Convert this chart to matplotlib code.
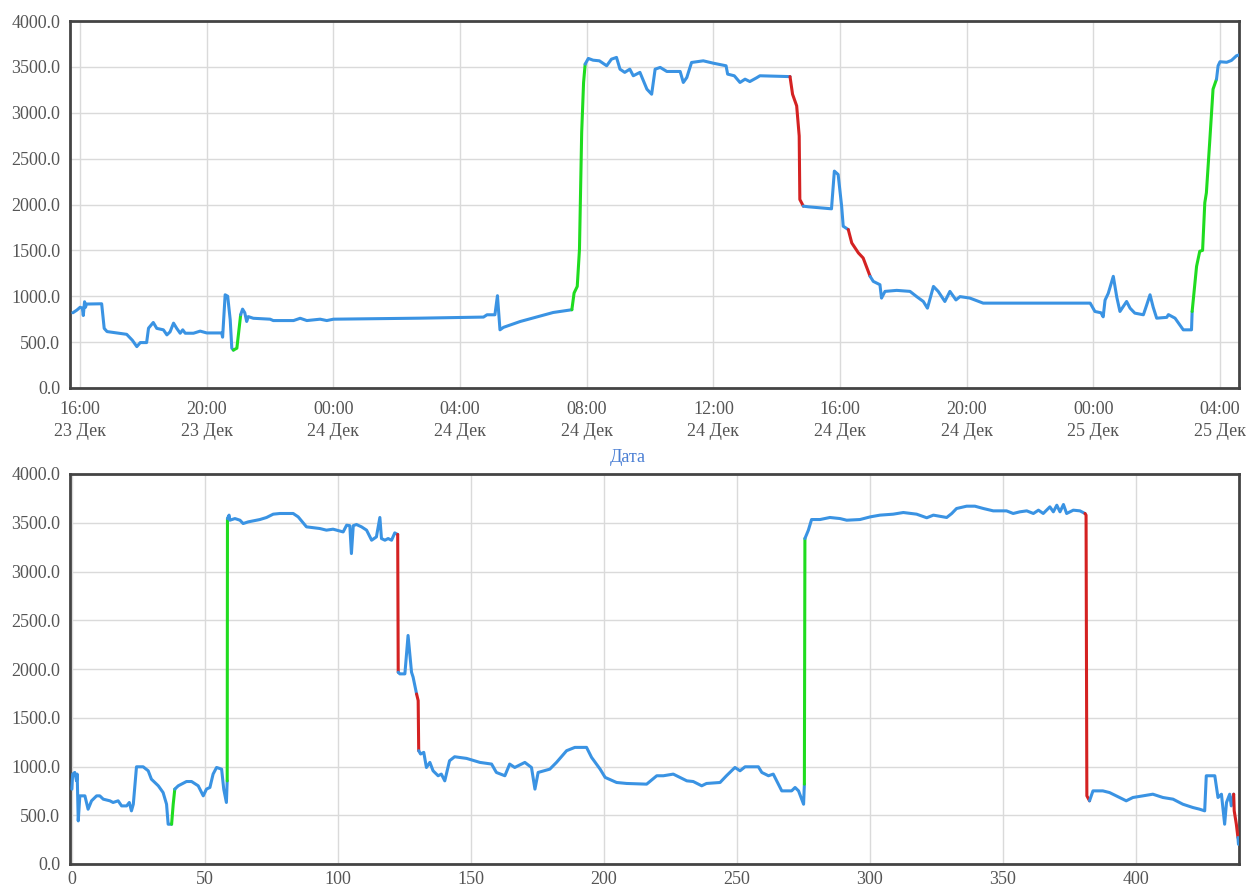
import matplotlib
matplotlib.use("Agg")
import matplotlib.pyplot as plt
import matplotlib.dates as mdates
from matplotlib.ticker import FuncFormatter, MultipleLocator
from datetime import datetime, timedelta

# ---------------- data: top chart (hours after 23 Dec 16:00) ----------------
top_hours = [-0.23, -0.1, 0.0, 0.07, 0.1, 0.14, 0.17, 0.2, 0.68, 0.76, 0.85, 1.16, 1.47, 1.65, 1.79,
             1.9, 2.1, 2.16, 2.31, 2.42, 2.63, 2.74, 2.84, 2.95, 3.05, 3.16, 3.24, 3.32, 3.58, 3.79,
             4.0, 4.47, 4.5, 4.58, 4.66, 4.74, 4.79, 4.84, 4.95, 5.07,
             5.13, 5.2, 5.26, 5.31, 5.47, 6.0, 6.1, 6.74, 6.95, 7.16, 7.58, 7.79, 8.0, 10.7, 12.74,
             12.85, 13.1, 13.18, 13.26, 13.37, 13.9, 14.94, 15.53,
             15.6, 15.7, 15.77, 15.84, 15.9, 15.95,
             16.05, 16.2, 16.4, 16.63, 16.78, 16.94, 17.05, 17.2, 17.36, 17.47, 17.68, 17.9, 18.05,
             18.16, 18.32, 18.53, 18.95, 19.05, 19.16, 19.31, 19.68, 20.0, 20.4, 20.45, 20.66, 20.84,
             21.0, 21.15, 21.36, 21.47, 22.42,
             22.5, 22.63, 22.71, 22.73, 22.84,
             23.0, 23.73, 23.82, 23.94, 24.05, 24.1, 24.26,
             24.37, 24.58, 24.73, 24.95,
             25.05, 25.26, 25.31, 25.42, 25.79, 26.21, 26.42, 26.63, 26.76, 26.95, 27.1, 27.31, 27.47,
             27.66, 27.79, 28.1, 28.52, 31.9, 32.05, 32.24, 32.31, 32.37, 32.47, 32.63, 32.74, 32.84,
             33.05, 33.16, 33.31, 33.58, 33.68, 33.79, 33.89, 34.0, 34.32, 34.37, 34.58, 34.84, 35.1,
             35.12,
             35.26, 35.36, 35.45, 35.52, 35.57, 35.68, 35.78, 35.89,
             35.94, 36.0, 36.21, 36.36, 36.52, 36.6]
top_values = [820, 850, 880, 870, 790, 940, 880, 915, 918, 650, 615, 600, 585, 520, 451,
              495, 495, 652, 714, 650, 634, 579, 612, 707, 650, 597, 634, 597, 597, 620,
              600, 600, 554, 1016, 1000, 743, 434, 413, 434, 798,
              860, 820, 725, 778, 760, 750, 735, 735, 760, 735, 750, 735, 750, 761, 773,
              798, 798, 1006, 634, 661, 725, 823, 853,
              1035, 1107, 1508, 2784, 3330, 3530,
              3592, 3573, 3566, 3512, 3584, 3603, 3475, 3440, 3475, 3403, 3440, 3257, 3202,
              3475, 3494, 3450, 3450, 3330, 3384, 3548, 3566, 3540, 3512, 3421, 3403, 3330,
              3366, 3340, 3380, 3403, 3394,
              3202, 3075, 2747, 2055, 1982,
              1975, 1953, 2364, 2327, 1982, 1763, 1727,
              1581, 1472, 1417, 1217,
              1162, 1126, 980, 1053, 1064, 1053, 996, 943, 870, 1107, 1053, 943, 1053,
              960, 996, 980, 925, 925, 834, 820, 776, 958, 1031, 1217, 990, 834,
              943, 870, 816, 798, 900, 1016, 880, 761, 770, 800, 761, 634, 634,
              834,
              1326, 1490, 1500, 2019, 2128, 2711, 3257, 3366,
              3512, 3556, 3550, 3570, 3621, 3630]
# highlighted spans (in hours): rises drawn green, falls drawn red
top_rise_spans = [(4.84, 5.07), (15.53, 15.95), (35.12, 35.89)]
top_fall_spans = [(22.42, 22.84), (24.26, 24.95)]

# ---------------- data: bottom chart (sample index) ----------------
bot_index = [0, 0.3, 1.1, 1.75, 2, 2.4, 3, 4.9, 6.1, 7.4, 9.3, 10.5, 11.8, 14.3, 15.5, 17.4, 18.7,
             20.6, 21.6, 22.4, 23.1, 24.3, 26.8, 28.7, 29.9, 32.5, 34.3, 35.6, 36.2, 37.5,
             38.1, 38.7,
             40, 43.1, 45, 47.5, 49.4, 50.6, 51.9, 53.1, 54.4, 56.3, 57.1, 58.1, 58.4,
             58.5,
             59.1, 59.4, 61.3, 63.2, 64.4, 66.3, 70.7, 73.2, 75.7, 78.2, 83.2, 85.1, 88.2, 93.2,
             95.7, 98.2, 102, 103.3, 104.5, 105.1, 105.8, 107, 108.9, 110.8, 112.7, 114.5, 115.8,
             116.4, 117.7, 118.9, 120.2, 121.4, 122.5,
             122.7,
             123.3, 125.2, 126.4, 127.7, 128.3, 129.6,
             130.2, 130.4,
             131.1, 132.3, 133.3, 134.6, 135.8, 137.7, 138.9, 140.2, 142, 143.9, 148.4, 153.4,
             157.8, 159.6, 162.8, 164.6, 166.5, 170.3, 172.8, 174.1, 175.3, 179.7, 182.2, 186,
             189.1, 193.5, 195.4, 198.6, 200.5, 204.8, 208.6, 216.1, 219.9, 222.4, 226.1, 231.2,
             233.6, 236.8, 238.6, 243.7, 246.1, 249.3, 251.2, 253.1, 258.1, 259.4, 261.9, 263.7,
             266.9, 270.6, 271.9, 273.2, 275.1, 275.4,
             275.6,
             276.9, 278.1, 281.3, 285, 288.8, 291.3, 296.3, 300.1, 303.8, 308.8, 312.6, 317.6,
             321.4, 323.9, 328.9, 330.8, 332.6, 336.4, 339.5, 342.7, 346.4, 351.4, 353.9, 356.4,
             359, 361.5, 363.4, 365.2, 367.7, 369, 370.3, 371.5, 372.8, 374, 376.5, 379, 380.9,
             381.3, 381.6, 382.6,
             383.9, 387.6, 390.1, 393.9, 396.4, 398.9, 402.7, 406.4, 410.2, 414, 417.7, 421.5,
             424, 425.9, 426.5, 429.7, 430.9, 432.2, 433.4, 434.1, 435.3, 435.9, 436.8,
             437.0, 437.8, 438.4,
             438.6]
bot_values = [768, 922, 939, 853, 922, 442, 699, 699, 562, 648, 699, 699, 665, 648, 631, 648, 596,
              596, 631, 545, 613, 997, 997, 956, 870, 802, 733, 613, 408, 408,
              613, 768,
              802, 846, 846, 802, 699, 768, 785, 922, 990, 973, 768, 631, 853,
              3543,
              3578, 3526, 3543, 3526, 3492, 3509, 3533, 3554, 3588, 3595, 3595, 3560, 3458, 3441,
              3424, 3434, 3406, 3475, 3470, 3184, 3470, 3482, 3458, 3424, 3321, 3355, 3554,
              3338, 3321, 3338, 3321, 3396, 3380,
              1967,
              1950, 1950, 2344, 1967, 1916, 1744,
              1676, 1162,
              1128, 1145, 990, 1042, 956, 905, 922, 853, 1059, 1100, 1083, 1042,
              1025, 939, 905, 1025, 990, 1042, 990, 768, 939, 973, 1042, 1162,
              1196, 1196, 1093, 973, 888, 836, 826, 819, 905, 905, 922, 853,
              846, 802, 826, 836, 905, 990, 956, 997, 997, 939, 905, 922,
              750, 750, 785, 750, 613, 819,
              3338,
              3424, 3533, 3533, 3554, 3543, 3526, 3533, 3560, 3578, 3588, 3605, 3588,
              3551, 3578, 3554, 3595, 3646, 3670, 3670, 3646, 3622, 3622, 3595, 3612,
              3622, 3595, 3629, 3595, 3663, 3612, 3680, 3612, 3687, 3595, 3629, 3622, 3595,
              3578, 699, 648,
              750, 750, 733, 682, 648, 682, 699, 716, 682, 665, 613, 579,
              562, 545, 905, 905, 682, 716, 408, 631, 716, 596, 716,
              545, 408, 271,
              202]
bot_rise_spans = [(37.5, 38.7), (58.4, 58.5), (275.4, 275.6)]
bot_fall_spans = [(122.5, 122.7), (129.6, 130.4), (380.9, 382.6), (436.8, 438.4)]

y_ticks = [0, 500, 1000, 1500, 2000, 2500, 3000, 3500, 4000]
month_label = "Дек"
x_axis_title = "Дата"

# ---------------- styling ----------------
COLORS = {"b": "#3a93e3", "g": "#1fdc1f", "r": "#d42222"}
LW = 2.2
SERIF = ["Liberation Serif", "DejaVu Serif"]
TICK_COLOR = "#555555"

fig = plt.figure(figsize=(12.48, 8.9), dpi=100)
ax1 = fig.add_axes([70 / 1248, 1 - 388 / 890, (1239 - 70) / 1248, (388 - 21) / 890])
ax2 = fig.add_axes([70 / 1248, 1 - 864 / 890, (1239 - 70) / 1248, (864 - 474) / 890])


def seg_flags(xs, rise, fall):
    flags = ["b"]
    for i in range(1, len(xs)):
        a, b = xs[i - 1], xs[i]
        f = "b"
        for lo, hi in rise:
            if lo - 1e-9 <= a and b <= hi + 1e-9:
                f = "g"
        for lo, hi in fall:
            if lo - 1e-9 <= a and b <= hi + 1e-9:
                f = "r"
        flags.append(f)
    return flags


def draw_series(ax, xs, ys, flags):
    n = len(xs)
    i = 1
    while i < n:
        f = flags[i]
        j = i
        while j + 1 < n and flags[j + 1] == f:
            j += 1
        ax.plot(xs[i - 1:j + 1], ys[i - 1:j + 1], color=COLORS[f], lw=LW,
                solid_joinstyle="round", solid_capstyle="round", zorder=3)
        i = j + 1


base = datetime(2023, 12, 23, 16, 0)
top_dates = [base + timedelta(hours=h) for h in top_hours]
draw_series(ax1, top_dates, top_values, seg_flags(top_hours, top_rise_spans, top_fall_spans))
draw_series(ax2, bot_index, bot_values, seg_flags(bot_index, bot_rise_spans, bot_fall_spans))

# axes styling
for ax in (ax1, ax2):
    ax.set_ylim(0, 4000)
    ax.set_yticks(y_ticks)
    ax.yaxis.set_major_formatter(FuncFormatter(lambda v, p: f"{v:.1f}"))
    ax.grid(True, color="#dadada", lw=1.0, zorder=0)
    ax.set_axisbelow(True)
    for s in ax.spines.values():
        s.set_color("#444444")
        s.set_linewidth(2.0)
    ax.tick_params(axis="y", length=0, pad=7)
ax1.tick_params(axis="x", length=0, pad=9)
ax2.tick_params(axis="x", length=0, pad=5)

ax1.set_xlim(base + timedelta(hours=-0.32), base + timedelta(hours=36.6))
ax1.xaxis.set_major_locator(mdates.HourLocator(byhour=[0, 4, 8, 12, 16, 20]))


def date_fmt(v, pos):
    d = mdates.num2date(v)
    return f"{d:%H:%M}\n{d.day} {month_label}"


ax1.xaxis.set_major_formatter(FuncFormatter(date_fmt))
ax2.set_xlim(-0.7, 438.8)
ax2.xaxis.set_major_locator(MultipleLocator(50))

for ax in (ax1, ax2):
    for lab in ax.get_xticklabels() + ax.get_yticklabels():
        lab.set_family(SERIF)
        lab.set_fontsize(13)
        lab.set_color(TICK_COLOR)
for lab in ax1.get_xticklabels():
    lab.set_linespacing(1.4)

fig.text(628 / 1248, 1 - 457 / 890, x_axis_title, ha="center", va="center",
         family=SERIF, fontsize=13, color="#4a7fd4")

fig.savefig("out.png", dpi=100, facecolor="white")
